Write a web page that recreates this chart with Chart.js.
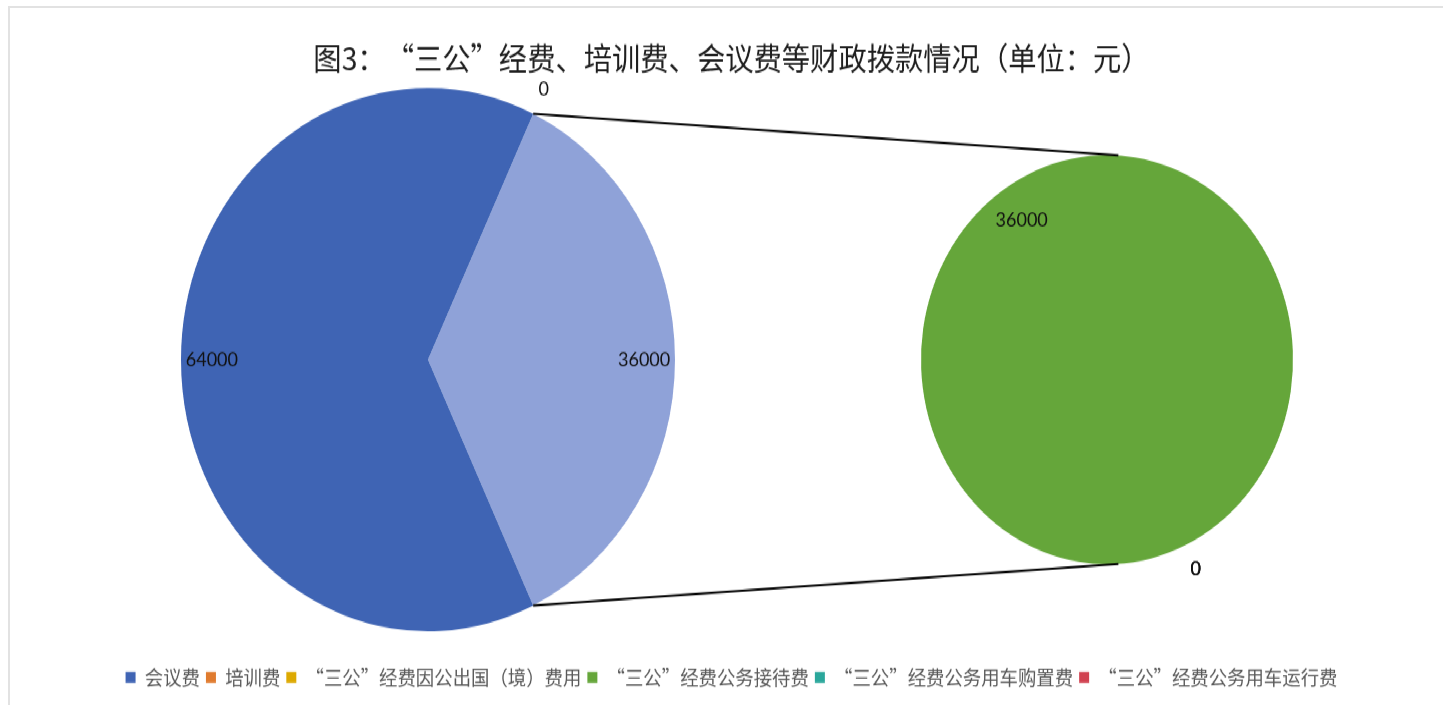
<!DOCTYPE html>
<html lang="zh-CN">
<head>
<meta charset="utf-8">
<script src="https://cdn.jsdelivr.net/npm/chart.js@4.4.1/dist/chart.umd.min.js"></script>
<style>
  html, body { margin: 0; padding: 0; background: #fff; overflow: hidden; }
  #frame { position: absolute; left: 8px; top: 6px; width: 1435px; height: 699px;
           border-top: 2px solid #e2e2e2; border-left: 2px solid #e2e2e2; box-sizing: border-box; }
  /* Excel-Bild ist vertikal leicht gestreckt */
  #stage { position: absolute; left: 0; top: 0; width: 1443px; height: 641px;
           transform: scaleY(1.1); transform-origin: 0 0; }
  #stage canvas { position: absolute; left: 0; top: 0; }
  #detail-chart { pointer-events: none; }
</style>
</head>
<body>
<div id="frame"></div>
<div id="stage">
  <canvas id="main-chart" width="1443" height="641"></canvas>
  <canvas id="detail-chart" width="1443" height="641"></canvas>
</div>
<script>
// Daten (Einheit: Yuan)
const titleText = '图3：“三公”经费、培训费、会议费等财政拨款情况（单位：元）';
const categories = [
  '会议费',
  '培训费',
  '“三公”经费因公出国（境）费用',
  '“三公”经费公务接待费',
  '“三公”经费公务用车购置费',
  '“三公”经费公务用车运行费'
];
const amounts = [64000, 0, 0, 36000, 0, 0];
const categoryColors = ['#3F64B4', '#E07B2E', '#DDA900', '#65A63A', '#2AA79B', '#D1404F'];
const otherColor = '#8FA2D8';

// Aufteilung: erster Kreis (会议费, 培训费, Rest), zweiter Kreis (三公-Posten)
const mainIdx = [0, 1];
const detailIdx = [3, 4, 5, 2];

const detailTotal = detailIdx.reduce((s, i) => s + amounts[i], 0);
const grandTotal = amounts.reduce((s, v) => s + v, 0);

const labelFont = '18px Lato, "Noto Sans", sans-serif';
const cjkFont = '"Noto Sans CJK SC", "Noto Sans", sans-serif';

// Platz des ersten Kreises
const mainBox = { left: 181, top: 80, right: 675, bottom: 574 };

// Datenbeschriftungen
const sliceLabels = {
  id: 'sliceLabels',
  afterDatasetsDraw(chart, args, opts) {
    const ctx = chart.ctx;
    const meta = chart.getDatasetMeta(0);
    const values = chart.data.datasets[0].data;
    ctx.save();
    ctx.font = labelFont;
    ctx.fillStyle = '#111';
    ctx.textAlign = 'center';
    ctx.textBaseline = 'middle';
    meta.data.forEach((arc, i) => {
      const p = arc.getProps(['x', 'y', 'startAngle', 'endAngle', 'outerRadius'], true);
      const mid = (p.startAngle + p.endAngle) / 2 + (values[i] > 0 ? (opts.shift || 0) : 0);
      const f = values[i] > 0 ? opts.inside : opts.outside;
      ctx.fillText(String(values[i]),
        p.x + Math.cos(mid) * p.outerRadius * f,
        p.y + Math.sin(mid) * p.outerRadius * f);
    });
    ctx.restore();
  }
};

// Kreis an feste Stelle setzen
const placePie = {
  id: 'placePie',
  afterLayout(chart) {
    Object.assign(chart.chartArea, {
      left: mainBox.left, top: mainBox.top, right: mainBox.right, bottom: mainBox.bottom,
      width: mainBox.right - mainBox.left, height: mainBox.bottom - mainBox.top
    });
  }
};

const mainChart = new Chart(document.getElementById('main-chart'), {
  type: 'pie',
  data: {
    labels: ['“三公”经费', categories[0], categories[1]],
    datasets: [{
      data: [detailTotal, amounts[mainIdx[0]], amounts[mainIdx[1]]],
      backgroundColor: [otherColor, categoryColors[0], categoryColors[1]],
      borderWidth: 0
    }]
  },
  options: {
    responsive: false,
    animation: false,
    devicePixelRatio: 1,
    rotation: 90 - (detailTotal / grandTotal) * 180,
    layout: { padding: { left: 20, bottom: 6 } },
    plugins: {
      tooltip: { enabled: false },
      title: {
        display: true,
        text: titleText,
        color: '#1f1f1f',
        font: { family: cjkFont, size: 28.3, weight: 'normal' },
        padding: { top: 36, bottom: 10 }
      },
      legend: {
        position: 'bottom',
        onClick: null,
        labels: {
          color: '#595959',
          font: { family: cjkFont, size: 18.4 },
          boxWidth: 10,
          boxHeight: 10,
          padding: 6,
          generateLabels: () => categories.map((c, i) => ({
            text: c,
            fillStyle: categoryColors[i],
            strokeStyle: categoryColors[i],
            fontColor: '#595959',
            lineWidth: 0,
            hidden: false,
            index: i
          }))
        }
      },
      sliceLabels: { inside: 0.875, outside: 1.1 }
    }
  },
  plugins: [placePie, sliceLabels]
});

// Verbindungslinien zwischen den Kreisen
const connector = {
  id: 'connector',
  afterDatasetsDraw(chart) {
    const src = mainChart.getDatasetMeta(0).data[0].getProps(['x', 'y', 'startAngle', 'endAngle', 'outerRadius'], true);
    const dst = chart.getDatasetMeta(0).data[0].getProps(['x', 'y', 'outerRadius'], true);
    const d = 3.5 * Math.PI / 180;
    const ctx = chart.ctx;
    ctx.save();
    ctx.strokeStyle = '#000';
    ctx.lineWidth = 2;
    ctx.beginPath();
    ctx.moveTo(src.x + Math.cos(src.startAngle) * src.outerRadius, src.y + Math.sin(src.startAngle) * src.outerRadius);
    ctx.lineTo(dst.x + Math.cos(-Math.PI / 2 + d) * dst.outerRadius, dst.y + Math.sin(-Math.PI / 2 + d) * dst.outerRadius);
    ctx.moveTo(src.x + Math.cos(src.endAngle) * src.outerRadius, src.y + Math.sin(src.endAngle) * src.outerRadius);
    ctx.lineTo(dst.x + Math.cos(Math.PI / 2 - d) * dst.outerRadius, dst.y + Math.sin(Math.PI / 2 - d) * dst.outerRadius);
    ctx.stroke();
    ctx.restore();
  }
};

const detailChart = new Chart(document.getElementById('detail-chart'), {
  type: 'pie',
  data: {
    labels: detailIdx.map(i => categories[i]),
    datasets: [{
      data: detailIdx.map(i => amounts[i]),
      backgroundColor: detailIdx.map(i => categoryColors[i]),
      borderWidth: 0
    }]
  },
  options: {
    responsive: false,
    animation: false,
    devicePixelRatio: 1,
    rotation: 155,
    layout: { padding: { left: 921, right: 150, top: 141, bottom: 128 } },
    plugins: {
      tooltip: { enabled: false },
      legend: { display: false },
      title: { display: false },
      sliceLabels: { inside: 0.82, outside: 1.13, shift: -9 * Math.PI / 180 }
    }
  },
  plugins: [connector, sliceLabels]
});
</script>
</body>
</html>
